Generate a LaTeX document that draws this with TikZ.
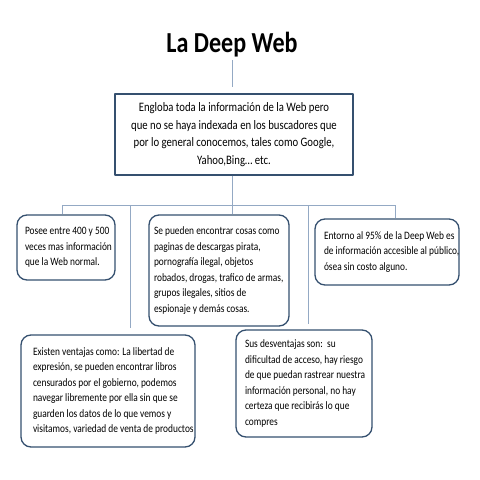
\documentclass[tikz,border=0pt]{standalone}
\usepackage{fontspec}
\setmainfont{Carlito}[FakeStretch=0.83]
\newcommand{\lin}[1]{\mbox{\spaceskip=0pt\xspaceskip=0pt\relax #1}}
\begin{document}
\begin{tikzpicture}[x=1pt,y=-1pt,line join=round,font=\fontsize{11.3}{15.5}\selectfont]
	\definecolor{borde}{HTML}{35506F}
	\definecolor{linea}{HTML}{94A9C4}
	\tikzset{caja/.style={draw=borde,line width=1.3pt,rounded corners=10pt,align=left,inner ysep=2pt},
		conector/.style={draw=linea,line width=0.9pt}}
	\fill[white] (0,0) rectangle (480,480);
	\useasboundingbox (0,0) rectangle (480,480);
	\node[font=\fontsize{29}{30}\selectfont\bfseries,anchor=base] (titulo) at (232,52) {La Deep Web};
	\node[draw=borde,line width=1.3pt,align=center,minimum width=238pt,minimum height=81pt,
		font=\fontsize{12.9}{17.5}\selectfont] (deep) at (234,134.5)
		{Engloba toda la información de la Web pero\\ que no se haya indexada en los buscadores que\\
		 por lo general conocemos, tales como Google,\\ Yahoo,Bing… etc.};
	%--------- Cajas
	\node[caja,inner xsep=8pt,text width=82pt,minimum height=65pt] (b1) at (66,247.5)
		{\lin{Posee entre 400 y 500}\\ \lin{veces mas información}\\ \lin{que la Web normal.}};
	\node[caja,inner xsep=5pt,text width=130pt,minimum height=111pt] (b2) at (219,270.5)
		{\lin{Se pueden encontrar cosas como}\\ \lin{paginas de descargas pirata,}\\ \lin{pornografía ilegal, objetos}\\
		 \lin{robados, drogas, trafico de armas,}\\ \lin{grupos ilegales, sitios de}\\ \lin{espionaje y demás cosas.}};
	\node[caja,inner xsep=9pt,text width=126pt,minimum height=66pt] (b3) at (387,252)
		{\lin{Entorno al 95\% de la Deep Web es}\\ \lin{de información accesible al público,}\\ \lin{ósea sin costo alguno.}};
	\node[caja,inner xsep=12pt,text width=150pt,minimum height=112pt] (b4) at (108,391)
		{\lin{Existen ventajas como: La libertad de}\\ \lin{expresión, se pueden encontrar libros}\\
		 \lin{censurados por el gobierno, podemos}\\ \lin{navegar libremente por ella sin que se}\\
		 \lin{guarden los datos de lo que vemos y}\\ \lin{visitamos, variedad de venta de productos}};
	\node[caja,inner xsep=9pt,text width=118pt,minimum height=107pt] (b5) at (304,383.5)
		{\lin{Sus desventajas son:\ \ su}\\ \lin{dificultad de acceso, hay riesgo}\\ \lin{de que puedan rastrear nuestra}\\
		 \lin{información personal, no hay}\\ \lin{certeza que recibirás lo que}\\ \lin{compres}};
	%--------- Conectores
	\coordinate (izq) at (62,205);
	\coordinate (der) at (395,205);
	\coordinate (c4) at (130,205);
	\coordinate (c5) at (308,205);
	\draw[conector,shorten >=6pt] (titulo.south) -- (titulo.south |- deep.north);
	\draw[conector] (titulo |- deep.south) -- (titulo |- izq);
	\draw[conector] (izq) -- (der);
	\draw[conector] (izq) -- (izq |- b1.north);
	\draw[conector] (titulo |- izq) -- (titulo |- b2.north);
	\draw[conector] (der) -- (der |- b3.north);
	\draw[conector,shorten >=6pt] (c4) -- (c4 |- b4.north);
	\draw[conector,shorten >=5pt] (c5) -- (c5 |- b5.north);
\end{tikzpicture}
\end{document}
